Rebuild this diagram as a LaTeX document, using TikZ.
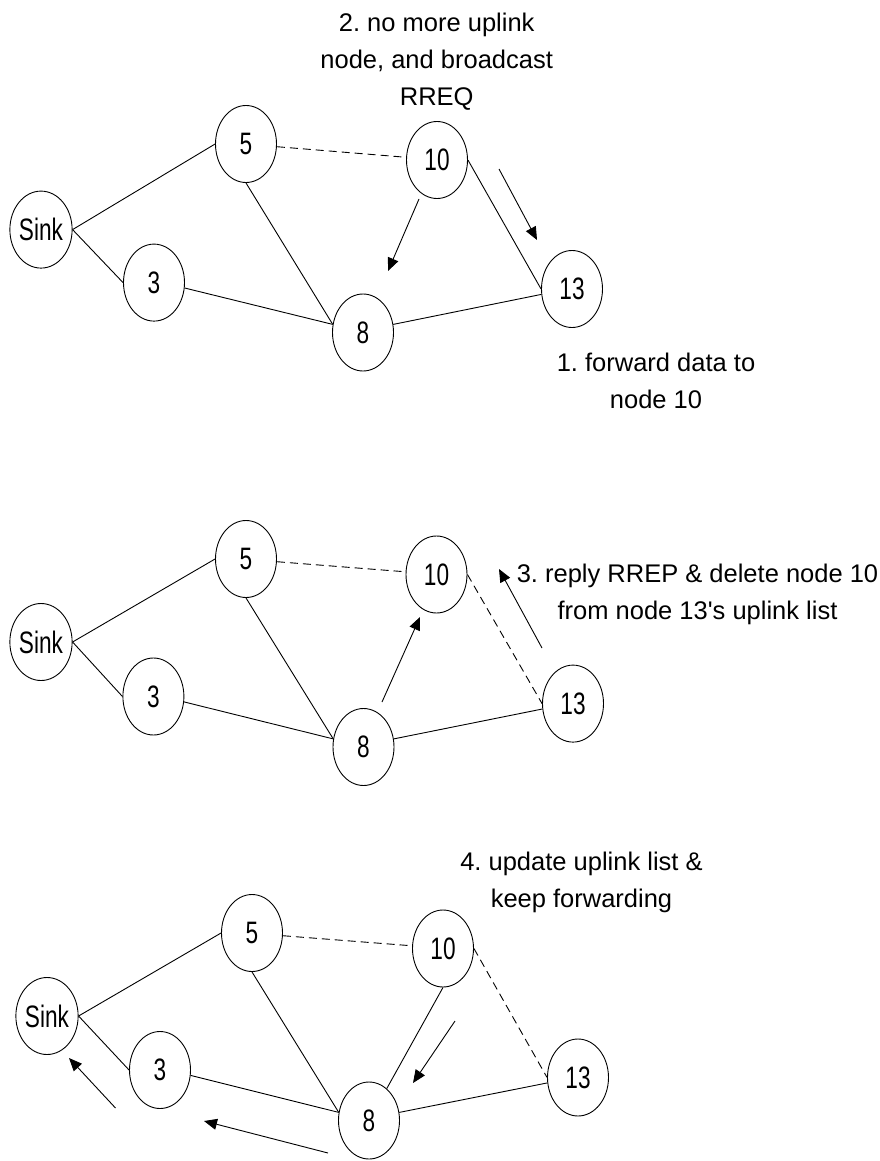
\documentclass[tikz,border=0pt]{standalone}
\usepackage{fontspec}
\setmainfont{Liberation Sans}
\newfontfamily\lblfont[FakeStretch=0.73]{Liberation Sans}
\usetikzlibrary{shapes.geometric,arrows.meta}
\frenchspacing
\begin{document}
\begin{tikzpicture}[x=1pt,y=-1pt,
  vertex/.style={ellipse,draw,line width=0.9pt,minimum width=61pt,minimum height=77pt,
    inner sep=0pt,font=\lblfont\fontsize{31}{37}\selectfont},
  link/.style={line width=0.9pt},
  weak/.style={link,dash pattern=on 8pt off 5pt},
  flow/.style={line width=0.9pt,-{Triangle[length=13pt,width=11pt]}},
  note/.style={align=center,anchor=north,inner sep=0pt,font=\fontsize{25.5}{37}\selectfont}]
\useasboundingbox (0,0) rectangle (880,1161);

% ---------- step 1 and 2: node 13 forwards, node 10 broadcasts RREQ ----------
\node[vertex] (aS)  at (41,229.6)  {Sink};
\node[vertex] (a5)  at (246,144)   {5};
\node[vertex] (a10) at (437,160)   {10};
\node[vertex] (a3)  at (154,282.6) {3};
\node[vertex] (a8)  at (363,332.5) {8};
\node[vertex] (a13) at (572,289)   {13};
\draw[link] (aS.east) -- (a5.west);
\draw[link] (aS.east) -- (a3.west);
\draw[link] (a3.350) -- (a8.165);
\draw[link] (a5.south) -- (a8.165);
\draw[weak] (a5.355) -- (a10.175);
\draw[link] (a10.east) -- (a13.west);
\draw[link] (a8.15) -- (a13.190);
\coordinate (a1s) at (419,199);  \coordinate (a1e) at (388,271);
\coordinate (a2s) at (499,169);  \coordinate (a2e) at (537,240);
\draw[flow] (a1s) -- (a1e);
\draw[flow] (a2s) -- (a2e);
\node[note] (t1) at (436.7,13.3) {2. no more uplink\\node, and broadcast\\RREQ};
\node[note] (t2) at (656,352.7) {1. forward data to\\node 10};

% ---------- step 3: node 8 replies RREP ----------
\node[vertex] (bS)  at (41,642)    {Sink};
\node[vertex] (b5)  at (246,559)   {5};
\node[vertex] (b10) at (436.5,574.5) {10};
\node[vertex] (b3)  at (153.4,696.5) {3};
\node[vertex] (b8)  at (363.5,747) {8};
\node[vertex] (b13) at (573,703.6) {13};
\draw[link] (bS.east) -- (b5.west);
\draw[link] (bS.east) -- (b3.west);
\draw[link] (b3.350) -- (b8.165);
\draw[link] (b5.south) -- (b8.165);
\draw[weak] (b5.355) -- (b10.175);
\draw[weak] (b10.east) -- (b13.west);
\draw[link] (b8.15) -- (b13.190);
\coordinate (b1s) at (382,702);  \coordinate (b1e) at (420,617);
\coordinate (b2s) at (542,648);  \coordinate (b2e) at (499,569);
\draw[flow] (b1s) -- (b1e);
\draw[flow] (b2s) -- (b2e);
\node[note] (t3) at (697.5,564.2) {3. reply RREP \& delete node 10\\from node 13\textquotesingle s uplink list};

% ---------- step 4: updated uplink list, forwarding resumes ----------
\node[vertex] (cS)  at (47,1016)   {Sink};
\node[vertex] (c5)  at (252,933)   {5};
\node[vertex] (c10) at (443,948.5) {10};
\node[vertex] (c3)  at (160,1070)  {3};
\node[vertex] (c8)  at (369,1120.5) {8};
\node[vertex] (c13) at (578,1077.5) {13};
\draw[link] (cS.east) -- (c5.west);
\draw[link] (cS.east) -- (c3.west);
\draw[link] (c3.350) -- (c8.165);
\draw[link] (c5.south) -- (c8.165);
\draw[weak] (c5.355) -- (c10.175);
\draw[weak] (c10.east) -- (c13.west);
\draw[link] (c10.south) -- (c8);
\draw[link] (c8.15) -- (c13.190);
\coordinate (c1s) at (455,1021);   \coordinate (c1e) at (413,1083);
\coordinate (c2s) at (115.5,1108); \coordinate (c2e) at (69,1058);
\coordinate (c3s) at (328,1153);   \coordinate (c3e) at (204,1121);
\draw[flow] (c1s) -- (c1e);
\draw[flow] (c2s) -- (c2e);
\draw[flow] (c3s) -- (c3e);
\node[note] (t4) at (581.5,852.2) {4. update uplink list \&\\keep forwarding};
\end{tikzpicture}
\end{document}
